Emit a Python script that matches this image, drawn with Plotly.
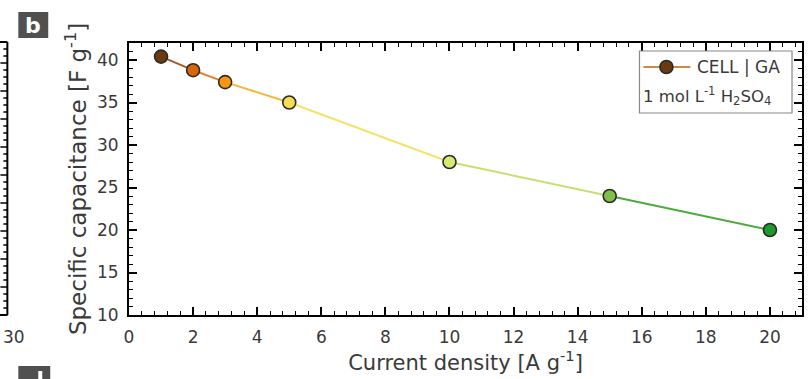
import plotly.graph_objects as go

current_density = [1, 2, 3, 5, 10, 15, 20]
capacitance = [40.4, 38.8, 37.4, 35.0, 28.0, 24.0, 20.0]
marker_colors = ["#6b3a10", "#d9660a", "#f7960f", "#f5dc55", "#d6ea72", "#7fc048", "#1d9a2c"]
segment_colors = ["#a85a26", "#e8802a", "#f6b83a", "#f2e46a", "#c6e070", "#4caa3c"]
x_ticks = list(range(0, 21, 2))
y_ticks = list(range(10, 41, 5))

FONT = "DejaVu Sans"
TXT = "#3a3a3a"

fig = go.Figure()
for i in range(len(current_density) - 1):
    fig.add_trace(go.Scatter(
        x=current_density[i:i + 2], y=capacitance[i:i + 2], mode="lines",
        line=dict(color=segment_colors[i], width=2), showlegend=False, hoverinfo="skip"))
fig.add_trace(go.Scatter(
    x=current_density, y=capacitance, mode="markers",
    marker=dict(size=13, color=marker_colors, line=dict(color="#2a2a2a", width=1.6)),
    showlegend=False))

L, R, T, B = 129, 4, 43, 64
W, H = 808, 379
pw, ph = W - L - R, H - T - B
def px(x):
    return (x - L) / pw
def py(y):
    return (H - B - y) / ph

axis_common = dict(showline=True, linecolor="black", linewidth=2, mirror="ticks",
                   ticks="inside", ticklen=8, tickwidth=1.5, tickcolor="black",
                   showgrid=False, zeroline=False,
                   tickfont=dict(family=FONT, size=17, color=TXT))
fig.update_xaxes(range=[0, 21], tickvals=x_ticks, ticklabelstandoff=6,
                 minor=dict(dtick=0.4, tick0=0, ticks="inside", ticklen=4, tickwidth=1.2, tickcolor="black"),
                 title=dict(text="Current density [A g<sup>-1</sup>]", font=dict(family=FONT, size=21, color=TXT), standoff=4),
                 **axis_common)
fig.update_yaxes(range=[10, 42], tickvals=y_ticks, ticklabelstandoff=5,
                 minor=dict(dtick=1, tick0=10, ticks="inside", ticklen=4, tickwidth=1.2, tickcolor="black"),
                 title=dict(text="Specific capacitance [F g<sup>-1</sup>]", font=dict(family=FONT, size=23, color=TXT), standoff=4),
                 **axis_common)

shapes = []
annotations = []
# legend box
shapes.append(dict(type="rect", xref="paper", yref="paper", x0=px(641), x1=px(794), y0=py(113), y1=py(51),
                   line=dict(color="#888888", width=1.2), fillcolor="white", layer="above"))
shapes.append(dict(type="line", xref="paper", yref="paper", x0=px(645), x1=px(692), y0=py(67), y1=py(67),
                   line=dict(color="#c98a4a", width=2), layer="above"))
shapes.append(dict(type="circle", xref="paper", yref="paper", xsizemode="pixel", ysizemode="pixel",
                   xanchor=px(668), yanchor=py(67), x0=-6.5, x1=6.5, y0=-6.5, y1=6.5,
                   fillcolor=marker_colors[0], line=dict(color="#2a2a2a", width=1.6), layer="above"))
annotations.append(dict(text="CELL | GA", xref="paper", yref="paper", x=px(697), y=py(67),
                        xanchor="left", yanchor="middle", showarrow=False,
                        font=dict(family=FONT, size=17, color=TXT)))
annotations.append(dict(text="1 mol L<sup>-1</sup> H<sub>2</sub>SO<sub>4</sub>", xref="paper", yref="paper",
                        x=px(643), y=py(96), xanchor="left", yanchor="middle", showarrow=False,
                        font=dict(family=FONT, size=16.5, color=TXT)))
# panel label b
shapes.append(dict(type="rect", xref="paper", yref="paper", x0=px(18), x1=px(48), y0=py(38), y1=py(12),
                   line=dict(width=0), fillcolor="#505050"))
annotations.append(dict(text="<b>b</b>", xref="paper", yref="paper", x=px(33), y=py(25),
                        xanchor="center", yanchor="middle", showarrow=False,
                        font=dict(family=FONT, size=22, color="white")))
# panel label d (cut off)
shapes.append(dict(type="rect", xref="paper", yref="paper", x0=px(18), x1=px(50), y0=py(395), y1=py(366),
                   line=dict(width=0), fillcolor="#505050"))
shapes.append(dict(type="rect", xref="paper", yref="paper", x0=px(38), x1=px(42), y0=py(395), y1=py(371),
                   line=dict(width=0), fillcolor="white"))
# neighbouring panel edge
shapes.append(dict(type="line", xref="paper", yref="paper", x0=px(7), x1=px(7), y0=py(315), y1=py(42),
                   line=dict(color="black", width=2)))
shapes.append(dict(type="line", xref="paper", yref="paper", x0=px(-5), x1=px(7), y0=py(315), y1=py(315),
                   line=dict(color="black", width=2)))
shapes.append(dict(type="line", xref="paper", yref="paper", x0=px(-5), x1=px(7), y0=py(42), y1=py(42),
                   line=dict(color="black", width=2)))
for k in range(0, 40):
    yy = 315 - k * 7
    if yy < 44:
        break
    ln = 7 if k % 4 == 0 else 4
    shapes.append(dict(type="line", xref="paper", yref="paper", x0=px(7 - ln), x1=px(7), y0=py(yy), y1=py(yy),
                       line=dict(color="black", width=1.5)))
annotations.append(dict(text="30", xref="paper", yref="paper", x=px(14), y=py(337),
                        xanchor="center", yanchor="middle", showarrow=False,
                        font=dict(family=FONT, size=17, color=TXT)))

fig.update_layout(width=W, height=H, margin=dict(l=L, r=R, t=T, b=B),
                  plot_bgcolor="white", paper_bgcolor="white",
                  shapes=shapes, annotations=annotations, showlegend=False)
fig.write_html("out.html")
